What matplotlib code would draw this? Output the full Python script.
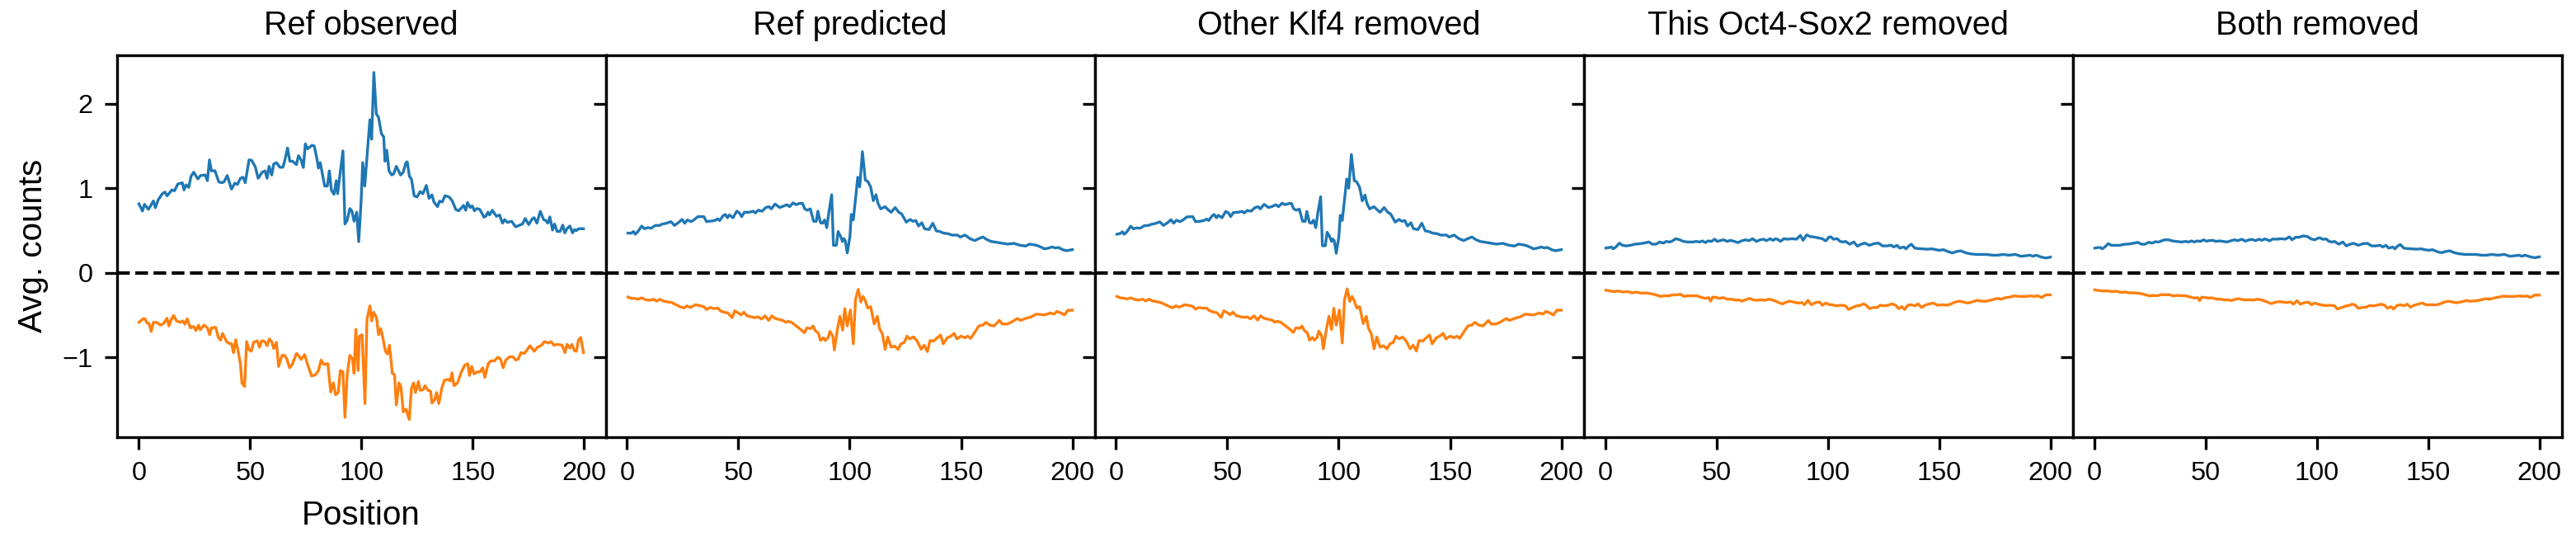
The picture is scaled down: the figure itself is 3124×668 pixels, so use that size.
import matplotlib
matplotlib.use("Agg")
import matplotlib.pyplot as plt

plt.rcParams['font.family'] = ['Liberation Sans', 'DejaVu Sans']

titles = ["Ref observed", "Ref predicted", "Other Klf4 removed",
          "This Oct4-Sox2 removed", "Both removed"]

# ---- Ref observed ----
obs_blue_pos = [0, 1.6, 2.5, 4.3, 6.5, 7.4, 8.6, 10.5, 11.7, 12.7, 14.8, 16, 17.5, 19.5, 20.3, 21.2, 22.4,
                23.4, 24.6, 26.5, 27.7, 29.8, 30.8, 31.7, 32.6, 34.2, 35.9, 37.2, 38.2, 39.7, 41.6, 43.1,
                44.3, 45.6, 46.8, 47.8, 49.5, 50.7, 52.3, 53.6, 55.4, 56.7, 57.6, 58.5, 59.7, 60.6, 61.8,
                63.4, 64.7, 65.5, 66.8, 67.8, 69, 70.8, 71.7, 72.9, 73.9, 74.8, 75.8, 77.8, 78.8, 80,
                80.7, 81.5, 82.8, 83.5, 84.7, 85.6, 86.5, 87.7, 88.7, 89.3, 90.5, 91.7, 92.6, 93.6, 94.8,
                95.7, 96.7, 97.9, 98.8, 99.8, 100.6, 101.5, 103.8, 104.6, 105.6, 106.7, 107.7, 109, 110,
                110.6, 111.4, 112.4, 113.6, 114.5, 115.7, 117.6, 118.8, 120, 120.6, 121.6, 122.5, 123.7,
                125, 126.4, 127.6, 129.2, 130.4, 131.7, 132.6, 134.2, 135.1, 136.3, 137.6, 139.5, 140.9,
                142.4, 143.7, 144.9, 145.9, 146.9, 147.7, 148.9, 149.8, 150.8, 151.8, 153.2, 155.1, 155.9,
                156.9, 157.6, 158.8, 160.7, 162.1, 163.4, 164.4, 165.6, 167.5, 169.3, 171.2, 172.4, 173.6,
                175.2, 176.7, 177.6, 178.9, 180.4, 181.9, 182.8, 183.8, 184.7, 185.9, 186.8, 188, 189.3,
                190.5, 191.4, 192.4, 193.7, 194.9, 195.8, 196.6, 197.6, 199.8]
obs_blue = [0.815, 0.73, 0.81, 0.75, 0.85, 0.77, 0.86, 0.935, 0.955, 0.91, 0.98, 0.97, 1.05, 1.065, 0.98,
            1.04, 1.01, 1.14, 1.19, 1.11, 1.15, 1.157, 1.09, 1.336, 1.206, 1.206, 1.075, 1.065, 1.075,
            1.15, 0.99, 1.06, 1.046, 1.118, 1.13, 1.065, 1.336, 1.33, 1.254, 1.118, 1.19, 1.206, 1.118,
            1.26, 1.157, 1.287, 1.303, 1.248, 1.248, 1.32, 1.476, 1.32, 1.32, 1.28, 1.385, 1.336, 1.245,
            1.525, 1.466, 1.509, 1.5, 1.35, 1.238, 1.303, 1.124, 1.026, 1.026, 1.206, 0.977, 0.929, 1.09,
            0.935, 1.19, 1.443, 0.577, 0.62, 0.76, 0.733, 0.61, 0.717, 0.368, 0.815, 1.303, 1.026, 1.81,
            1.58, 2.37, 1.88, 1.84, 1.645, 1.61, 1.32, 1.45, 1.206, 1.157, 1.17, 1.26, 1.157, 1.19, 1.303,
            1.313, 1.14, 1.108, 0.912, 0.896, 0.961, 0.935, 1.033, 0.88, 0.922, 0.837, 0.782, 0.847, 0.837,
            0.912, 0.896, 0.847, 0.75, 0.733, 0.766, 0.798, 0.74, 0.831, 0.772, 0.792, 0.733, 0.76, 0.75,
            0.658, 0.668, 0.717, 0.684, 0.74, 0.668, 0.684, 0.587, 0.629, 0.596, 0.61, 0.544, 0.564, 0.577,
            0.642, 0.57, 0.635, 0.652, 0.587, 0.727, 0.629, 0.62, 0.587, 0.661, 0.505, 0.577, 0.489, 0.489,
            0.564, 0.472, 0.521, 0.554, 0.472, 0.511, 0.498, 0.521, 0.521]

obs_orange_pos = [0, 1.9, 2.7, 3.7, 4.6, 5.5, 6.5, 8, 9.6, 11, 12.6, 13.5, 14.5, 15.6, 16.9, 18.5, 19.7,
                  20.7, 21.7, 23.1, 24.6, 25.6, 26.8, 27.5, 29.3, 30.8, 31.8, 32.6, 34.5, 35.7, 36.7, 37.6,
                  39.4, 40.6, 41.6, 42.5, 43.5, 44.6, 45.6, 46.3, 47.5, 48.4, 49.5, 50.5, 51.5, 53.2, 54.2,
                  55.2, 56.7, 57.6, 58.6, 59.7, 60.6, 61.8, 62.8, 64.3, 65.5, 66.5, 67.7, 68.9, 70.8, 72,
                  72.9, 74.5, 75.7, 77.6, 79.4, 80.7, 81.9, 83.1, 84.9, 86.2, 87.4, 88.4, 89.6, 90.5, 91.7,
                  92.6, 93.6, 94.8, 96, 96.7, 97.5, 98.5, 99.1, 100.3, 101.6, 102.5, 103.8, 104.6, 105.5,
                  106.8, 107.7, 108.7, 109.6, 110.8, 111.7, 112.6, 113.9, 114.9, 115.7, 116.9, 117.8, 118.8,
                  120, 121.5, 122.5, 123.5, 124.3, 125.6, 126.4, 127.7, 128.6, 129.9, 131.1, 131.7, 133,
                  133.8, 134.8, 136.1, 137.3, 139.1, 140, 140.7, 141.6, 143.2, 144.9, 146.5, 147.8, 148.6,
                  149.6, 150.6, 152.1, 153.3, 154.5, 155.5, 157, 158.2, 159.7, 161.3, 162.5, 163.7, 164.9,
                  166.6, 168.1, 169.3, 170.5, 171.7, 173.2, 174.5, 175.7, 177.7, 179.2, 181, 182.2, 184.1,
                  185.3, 186.5, 188, 190.2, 191.5, 192.4, 193.7, 194.6, 195.8, 196.6, 197.6, 198.6, 199.8]
obs_orange = [-0.587, -0.544, -0.544, -0.596, -0.603, -0.694, -0.587, -0.587, -0.619, -0.603, -0.538,
              -0.629, -0.554, -0.505, -0.57, -0.587, -0.57, -0.609, -0.544, -0.652, -0.635, -0.684, -0.619,
              -0.674, -0.619, -0.652, -0.733, -0.652, -0.645, -0.766, -0.798, -0.717, -0.815, -0.837,
              -0.837, -0.945, -0.792, -0.929, -1.075, -1.303, -1.346, -0.815, -0.912, -0.929, -0.824,
              -0.805, -0.88, -0.805, -0.815, -0.863, -0.782, -0.815, -0.896, -0.824, -1.108, -0.977,
              -0.977, -1.02, -1.124, -1.085, -0.955, -0.987, -1.026, -0.968, -1.075, -1.222, -1.206,
              -1.157, -1.033, -1.085, -1.075, -1.411, -1.303, -1.443, -1.417, -1.157, -1.173, -1.71,
              -1.206, -0.977, -1.02, -1.19, -0.668, -1.157, -0.75, -0.733, -1.548, -0.554, -0.391, -0.57,
              -0.466, -0.531, -0.733, -0.661, -0.766, -0.929, -0.961, -0.857, -1.19, -1.206, -1.564,
              -1.303, -1.352, -1.645, -1.613, -1.737, -1.368, -1.303, -1.417, -1.287, -1.391, -1.385,
              -1.336, -1.391, -1.401, -1.541, -1.499, -1.417, -1.548, -1.368, -1.271, -1.261, -1.281,
              -1.183, -1.336, -1.303, -1.173, -1.092, -1.075, -1.215, -1.108, -1.196, -1.173, -1.173,
              -1.124, -1.238, -1.075, -1.043, -1.043, -1.0, -1.02, -1.124, -1.033, -0.994, -0.994, -1.033,
              -1.02, -0.945, -0.955, -0.912, -0.863, -0.929, -0.88, -0.857, -0.815, -0.831, -0.815,
              -0.857, -0.847, -0.857, -0.945, -0.847, -0.89, -0.847, -0.922, -0.929, -0.792, -0.766, -0.945]

# ---- Ref predicted / Other Klf4 removed (same positions) ----
pred_blue_pos = [0.4, 2, 2.9, 3.7, 4.9, 6.6, 7.8, 9.4, 10.9, 12.7, 14.6, 15.8, 17.7, 19.7, 21.3, 23, 24.7,
                 25.9, 27.1, 28.7, 30, 31.8, 34.5, 35.7, 37.7, 39.4, 40.7, 41.6, 43.1, 44.1, 45.1, 45.9,
                 47.6, 49.3, 50.5, 51.5, 52.7, 54.9, 56.7, 57.6, 58.9, 60.7, 62.3, 63.8, 64.8, 66.5, 68.5,
                 70.2, 71.8, 73, 74.6, 75.9, 77.4, 78.8, 79.8, 81, 82.3, 83.8, 85, 85.7, 86.9, 87.8, 88.7,
                 89.7, 90.6, 91.9, 92.7, 94, 94.8, 95.8, 96.8, 97.3, 98, 98.9, 100.1, 100.7, 101.6, 102.6,
                 103.6, 104.5, 105.7, 107, 108.1, 109.4, 110.6, 111.8, 112.7, 113.9, 115.9, 117.1, 118.6,
                 120.4, 122, 123.3, 125.4, 127.1, 128.4, 129.7, 130.9, 132.4, 133.6, 135.6, 137.3, 138.9,
                 140.5, 142.2, 144.2, 145.9, 148.4, 149.6, 151.8, 154, 156.1, 158, 159.8, 161.7, 163.5,
                 166.6, 169.1, 170.9, 173.7, 176.4, 178.9, 180.8, 183.8, 185.7, 187.5, 189.4, 191, 192.3,
                 193.7, 195.5, 197.4, 200]
pred_blue = [0.469, 0.469, 0.488, 0.456, 0.488, 0.553, 0.521, 0.534, 0.527, 0.56, 0.56, 0.576, 0.586,
             0.605, 0.56, 0.592, 0.631, 0.586, 0.625, 0.605, 0.625, 0.664, 0.664, 0.605, 0.612, 0.618,
             0.638, 0.618, 0.674, 0.69, 0.651, 0.684, 0.651, 0.729, 0.707, 0.664, 0.716, 0.716, 0.729,
             0.707, 0.74, 0.729, 0.772, 0.782, 0.756, 0.814, 0.772, 0.788, 0.805, 0.782, 0.827, 0.805,
             0.821, 0.821, 0.756, 0.74, 0.756, 0.609, 0.609, 0.729, 0.592, 0.586, 0.625, 0.534, 0.707,
             0.924, 0.325, 0.325, 0.488, 0.436, 0.371, 0.404, 0.381, 0.234, 0.43, 0.69, 0.625, 0.87, 1.13,
             1.016, 1.433, 1.097, 1.081, 1.016, 0.853, 0.924, 0.821, 0.756, 0.782, 0.749, 0.716, 0.772,
             0.716, 0.697, 0.599, 0.631, 0.609, 0.618, 0.553, 0.592, 0.521, 0.511, 0.586, 0.495, 0.488,
             0.469, 0.462, 0.446, 0.446, 0.423, 0.446, 0.404, 0.381, 0.404, 0.423, 0.391, 0.371, 0.358,
             0.348, 0.339, 0.348, 0.326, 0.316, 0.339, 0.326, 0.306, 0.283, 0.293, 0.306, 0.293, 0.3,
             0.274, 0.261, 0.274]
klf4_blue = [0.456, 0.466, 0.485, 0.456, 0.485, 0.55, 0.521, 0.531, 0.527, 0.557, 0.56, 0.573, 0.583,
             0.602, 0.56, 0.589, 0.628, 0.586, 0.622, 0.605, 0.622, 0.661, 0.664, 0.605, 0.609, 0.618,
             0.635, 0.618, 0.671, 0.69, 0.651, 0.68, 0.651, 0.726, 0.707, 0.664, 0.713, 0.716, 0.726,
             0.707, 0.737, 0.729, 0.769, 0.782, 0.756, 0.81, 0.772, 0.785, 0.805, 0.782, 0.824, 0.805,
             0.818, 0.821, 0.756, 0.74, 0.753, 0.609, 0.609, 0.726, 0.592, 0.586, 0.622, 0.534, 0.704,
             0.9, 0.32, 0.32, 0.48, 0.436, 0.371, 0.4, 0.381, 0.23, 0.43, 0.68, 0.62, 0.86, 1.11,
             1.0, 1.40, 1.09, 1.075, 1.01, 0.85, 0.92, 0.82, 0.756, 0.782, 0.749, 0.716, 0.772,
             0.716, 0.697, 0.599, 0.631, 0.609, 0.618, 0.553, 0.592, 0.521, 0.511, 0.586, 0.495, 0.488,
             0.469, 0.462, 0.446, 0.446, 0.423, 0.446, 0.404, 0.381, 0.404, 0.423, 0.391, 0.371, 0.358,
             0.348, 0.339, 0.348, 0.326, 0.316, 0.339, 0.326, 0.306, 0.283, 0.293, 0.306, 0.293, 0.3,
             0.274, 0.261, 0.274]

pred_orange_pos = [0.4, 2, 3.5, 4.9, 6.6, 8.4, 10.3, 11.9, 13.3, 14.8, 16.4, 18.3, 20.1, 22, 23.8, 25.6,
                   26.9, 28.4, 30.8, 33, 34.5, 35.7, 37.3, 39.2, 40.7, 41.9, 43.5, 45.3, 47.2, 48.4, 50,
                   51.2, 52.5, 53.9, 55.8, 57.6, 58.9, 60.4, 62, 63.6, 65, 66.5, 68.5, 70, 71.4, 72.4, 73.9,
                   75.5, 77.1, 78.3, 79.6, 80.8, 82.5, 83.5, 84.5, 86, 86.9, 88.2, 89, 90.3, 91.1, 92.4, 93.1,
                   94.4, 95.6, 96.8, 97.8, 98.9, 100.3, 101.6, 102.6, 103.8, 105, 106, 106.9, 108.1, 109.4,
                   111, 112.4, 113.4, 114.7, 115.9, 117.1, 118.6, 120.1, 121.7, 123, 124.5, 125.7, 127,
                   128.7, 130.3, 132.1, 133.4, 134.9, 136.1, 137.7, 139.3, 140.8, 142, 143.8, 145.4, 146.9,
                   148.1, 150, 151.8, 153, 154.3, 155.8, 158, 159.8, 161.1, 162.9, 164.8, 167.2, 168.5,
                   170.9, 172.8, 175.3, 176.7, 178.9, 181.4, 183.8, 187.5, 190, 191.8, 193, 194.9, 196.4,
                   198, 200]
pred_orange = [-0.287, -0.303, -0.303, -0.313, -0.297, -0.319, -0.326, -0.313, -0.336, -0.313, -0.336,
               -0.345, -0.352, -0.378, -0.401, -0.417, -0.391, -0.411, -0.378, -0.391, -0.401, -0.434,
               -0.411, -0.424, -0.417, -0.45, -0.466, -0.476, -0.531, -0.45, -0.476, -0.499, -0.466,
               -0.509, -0.522, -0.531, -0.522, -0.548, -0.509, -0.564, -0.509, -0.541, -0.554, -0.564,
               -0.587, -0.574, -0.587, -0.619, -0.652, -0.678, -0.71, -0.652, -0.661, -0.629, -0.684,
               -0.717, -0.801, -0.769, -0.801, -0.769, -0.694, -0.75, -0.913, -0.684, -0.515, -0.678,
               -0.424, -0.629, -0.44, -0.841, -0.319, -0.196, -0.345, -0.28, -0.326, -0.417, -0.401,
               -0.606, -0.515, -0.661, -0.727, -0.906, -0.759, -0.88, -0.867, -0.906, -0.841, -0.824,
               -0.75, -0.782, -0.759, -0.808, -0.906, -0.857, -0.932, -0.801, -0.808, -0.769, -0.737,
               -0.841, -0.769, -0.75, -0.717, -0.782, -0.75, -0.769, -0.75, -0.776, -0.717, -0.629,
               -0.619, -0.587, -0.619, -0.629, -0.564, -0.606, -0.606, -0.58, -0.541, -0.564, -0.541,
               -0.522, -0.489, -0.499, -0.476, -0.489, -0.457, -0.476, -0.499, -0.443, -0.443]
klf4_orange = [-0.28, -0.297, -0.3, -0.31, -0.297, -0.316, -0.323, -0.313, -0.333, -0.313, -0.333,
               -0.342, -0.352, -0.375, -0.398, -0.414, -0.391, -0.408, -0.378, -0.388, -0.398, -0.43,
               -0.411, -0.42, -0.417, -0.447, -0.463, -0.473, -0.528, -0.45, -0.473, -0.496, -0.466,
               -0.506, -0.52, -0.528, -0.522, -0.545, -0.509, -0.56, -0.509, -0.538, -0.551, -0.56,
               -0.584, -0.574, -0.584, -0.616, -0.648, -0.674, -0.706, -0.652, -0.658, -0.629, -0.68,
               -0.714, -0.797, -0.766, -0.797, -0.766, -0.69, -0.75, -0.9, -0.68, -0.515, -0.67,
               -0.42, -0.62, -0.44, -0.83, -0.32, -0.19, -0.34, -0.28, -0.326, -0.417, -0.401,
               -0.6, -0.515, -0.658, -0.727, -0.9, -0.759, -0.88, -0.864, -0.9, -0.841, -0.824,
               -0.75, -0.782, -0.759, -0.808, -0.9, -0.857, -0.925, -0.801, -0.808, -0.769, -0.737,
               -0.841, -0.769, -0.75, -0.717, -0.782, -0.75, -0.769, -0.75, -0.776, -0.717, -0.629,
               -0.619, -0.587, -0.619, -0.629, -0.564, -0.606, -0.606, -0.58, -0.541, -0.564, -0.541,
               -0.522, -0.489, -0.499, -0.476, -0.489, -0.457, -0.476, -0.499, -0.443, -0.443]

# ---- This Oct4-Sox2 removed / Both removed (same positions) ----
os_blue_pos = [0.2, 1.8, 2.7, 3.5, 4.7, 6.3, 7.6, 9.4, 11.3, 13.1, 15.6, 17.8, 19.5, 21.1, 22.7, 24.4, 26,
               27.3, 28.9, 30.1, 31.6, 33.4, 35, 37.1, 39.2, 40.8, 42.4, 43.6, 44.9, 46.1, 47.6, 49.1,
               50.3, 51.5, 53.1, 54.7, 56.2, 58, 59.6, 61.1, 62.9, 64.6, 66.1, 67.9, 69.5, 71, 72.4, 74,
               75.3, 76.5, 77.8, 78.6, 80.2, 81.8, 83.9, 85.8, 87.6, 88.8, 90.4, 91.9, 93.8, 95.6, 97.4,
               99, 100.5, 101.4, 102.4, 104.2, 105.4, 106.7, 107.9, 109.8, 111.6, 113.2, 114.9, 116.5,
               118.6, 120.6, 122.7, 124.5, 126.4, 128.5, 129.5, 131, 132.2, 134.1, 135, 136.2, 137.4, 139,
               140.5, 142.7, 144.5, 146.7, 148.5, 150.1, 151.9, 154, 155.9, 157.5, 159.6, 161.5, 163.3,
               166.4, 168.9, 171.3, 173.8, 176.2, 178.7, 181.2, 184.2, 186.7, 188.6, 190.8, 192, 193.5,
               195.9, 197.8, 199.9]
os_blue = [0.292, 0.299, 0.305, 0.283, 0.305, 0.351, 0.325, 0.318, 0.325, 0.338, 0.344, 0.354, 0.364,
           0.338, 0.338, 0.364, 0.351, 0.371, 0.364, 0.377, 0.403, 0.39, 0.371, 0.364, 0.364, 0.371,
           0.364, 0.377, 0.357, 0.377, 0.371, 0.397, 0.371, 0.38, 0.39, 0.371, 0.384, 0.371, 0.357,
           0.377, 0.39, 0.38, 0.403, 0.371, 0.39, 0.397, 0.38, 0.403, 0.384, 0.403, 0.39, 0.371, 0.403,
           0.397, 0.403, 0.397, 0.442, 0.384, 0.449, 0.429, 0.423, 0.413, 0.403, 0.377, 0.423, 0.423,
           0.397, 0.403, 0.371, 0.364, 0.371, 0.338, 0.364, 0.315, 0.338, 0.351, 0.325, 0.344, 0.351,
           0.318, 0.318, 0.325, 0.305, 0.325, 0.292, 0.305, 0.283, 0.315, 0.338, 0.292, 0.286, 0.283,
           0.279, 0.283, 0.273, 0.266, 0.273, 0.25, 0.234, 0.25, 0.26, 0.24, 0.227, 0.217, 0.217,
           0.217, 0.208, 0.208, 0.217, 0.208, 0.217, 0.195, 0.201, 0.208, 0.195, 0.208, 0.185, 0.175,
           0.185]
both_blue = [0.292, 0.299, 0.299, 0.283, 0.305, 0.345, 0.325, 0.325, 0.325, 0.335, 0.341, 0.351, 0.36,
             0.338, 0.338, 0.361, 0.351, 0.367, 0.364, 0.377, 0.39, 0.39, 0.377, 0.37, 0.364, 0.371,
             0.364, 0.377, 0.364, 0.377, 0.371, 0.39, 0.374, 0.38, 0.384, 0.371, 0.377, 0.371, 0.364,
             0.377, 0.39, 0.38, 0.397, 0.374, 0.39, 0.394, 0.38, 0.397, 0.384, 0.4, 0.39, 0.377, 0.4,
             0.397, 0.403, 0.397, 0.425, 0.39, 0.42, 0.42, 0.436, 0.43, 0.4, 0.39, 0.41, 0.413,
             0.397, 0.4, 0.371, 0.364, 0.371, 0.338, 0.364, 0.318, 0.338, 0.348, 0.325, 0.344, 0.348,
             0.318, 0.318, 0.325, 0.305, 0.325, 0.292, 0.305, 0.283, 0.315, 0.335, 0.292, 0.286, 0.283,
             0.279, 0.283, 0.273, 0.266, 0.273, 0.25, 0.237, 0.25, 0.26, 0.24, 0.227, 0.217, 0.217,
             0.217, 0.208, 0.208, 0.217, 0.208, 0.217, 0.195, 0.201, 0.208, 0.195, 0.208, 0.188, 0.178,
             0.188]

os_orange_pos = [0.2, 2, 3.9, 5.7, 7.9, 10, 11.9, 13.7, 16.2, 18, 20.5, 22.7, 24.8, 26.7, 28.5, 30.1,
                 32.2, 33.8, 35.3, 37.1, 39, 40.8, 42.6, 45.1, 46.4, 47.3, 48.2, 49.8, 51.3, 52.8, 54.7,
                 56.8, 58.7, 59.9, 61.4, 63, 64.8, 66.3, 67.9, 69.8, 71.6, 73.2, 74.7, 76.5, 78.4, 79.6,
                 80.8, 82.7, 84.5, 86.4, 88.2, 89.4, 91, 92.5, 94.4, 96.2, 97.5, 99, 100.8, 101.8, 103.6,
                 106.1, 107.9, 109.2, 111, 112.9, 114.7, 115.9, 117.2, 118.6, 120.2, 122.1, 123.5, 125.2,
                 127, 128.8, 130.4, 131.7, 133.2, 134.4, 135.9, 137.5, 139, 140.5, 142, 143.6, 145.5,
                 147.3, 149.2, 151.4, 153.5, 155.3, 157.2, 159, 160.8, 162.7, 164.6, 167, 168.9, 171.3,
                 173.8, 176, 177.5, 180, 181.8, 183.7, 186.2, 188.6, 191.1, 192.9, 194.1, 196, 197.8, 199.9]
os_orange = [-0.206, -0.216, -0.222, -0.216, -0.228, -0.222, -0.238, -0.228, -0.241, -0.238, -0.248,
             -0.261, -0.28, -0.271, -0.274, -0.261, -0.261, -0.254, -0.28, -0.271, -0.274, -0.271,
             -0.287, -0.303, -0.293, -0.336, -0.287, -0.293, -0.303, -0.293, -0.313, -0.313, -0.326,
             -0.319, -0.336, -0.319, -0.303, -0.319, -0.326, -0.319, -0.326, -0.313, -0.319, -0.336,
             -0.358, -0.368, -0.352, -0.336, -0.346, -0.358, -0.352, -0.378, -0.326, -0.378, -0.352,
             -0.346, -0.384, -0.358, -0.378, -0.378, -0.391, -0.384, -0.391, -0.434, -0.411, -0.391,
             -0.384, -0.368, -0.384, -0.424, -0.411, -0.411, -0.384, -0.391, -0.384, -0.368, -0.384,
             -0.424, -0.401, -0.434, -0.384, -0.378, -0.391, -0.368, -0.411, -0.384, -0.368, -0.358,
             -0.384, -0.378, -0.384, -0.368, -0.346, -0.336, -0.346, -0.358, -0.346, -0.326, -0.336,
             -0.336, -0.319, -0.303, -0.313, -0.293, -0.287, -0.274, -0.28, -0.28, -0.274, -0.28,
             -0.271, -0.293, -0.261, -0.261]
both_orange = [-0.203, -0.21, -0.216, -0.213, -0.222, -0.219, -0.232, -0.228, -0.238, -0.238, -0.245,
               -0.258, -0.274, -0.268, -0.271, -0.258, -0.261, -0.258, -0.274, -0.268, -0.271, -0.271,
               -0.284, -0.3, -0.293, -0.33, -0.29, -0.293, -0.3, -0.296, -0.31, -0.313, -0.323,
               -0.319, -0.33, -0.316, -0.306, -0.316, -0.323, -0.319, -0.323, -0.313, -0.319, -0.333,
               -0.355, -0.365, -0.352, -0.342, -0.346, -0.352, -0.346, -0.372, -0.33, -0.372, -0.352,
               -0.348, -0.378, -0.358, -0.375, -0.378, -0.388, -0.384, -0.391, -0.43, -0.411, -0.394,
               -0.384, -0.371, -0.384, -0.42, -0.411, -0.407, -0.388, -0.391, -0.384, -0.371, -0.384,
               -0.42, -0.401, -0.43, -0.388, -0.378, -0.391, -0.371, -0.407, -0.384, -0.371, -0.358,
               -0.38, -0.378, -0.38, -0.368, -0.348, -0.336, -0.346, -0.355, -0.346, -0.329, -0.336,
               -0.333, -0.319, -0.306, -0.313, -0.296, -0.287, -0.277, -0.28, -0.28, -0.274, -0.28,
               -0.274, -0.29, -0.264, -0.264]

panels = [
    (obs_blue_pos, obs_blue, obs_orange_pos, obs_orange),
    (pred_blue_pos, pred_blue, pred_orange_pos, pred_orange),
    (pred_blue_pos, klf4_blue, pred_orange_pos, klf4_orange),
    (os_blue_pos, os_blue, os_orange_pos, os_orange),
    (os_blue_pos, both_blue, os_orange_pos, both_orange),
]

fig, axes = plt.subplots(1, 5, sharey=True, figsize=(3124 / 300, 668 / 300), dpi=300)
fig.subplots_adjust(left=0.0453, right=0.9944, top=0.90, bottom=0.207, wspace=0)

for ax, title, (bp, bv, op, ov) in zip(axes, titles, panels):
    ax.plot(bp, bv, color='#1f77b4', lw=0.8)
    ax.plot(op, ov, color='#ff7f0e', lw=0.8)
    ax.axhline(0, color='black', ls='--', lw=1.0)
    ax.set_title(title, fontsize=9.5)
    ax.tick_params(labelsize=7.8)
    ax.set_xticks([0, 50, 100, 150, 200])

axes[0].set_ylabel('Avg. counts', fontsize=9.7)
axes[0].set_xlabel('Position', fontsize=9.7)

fig.savefig('out.png', dpi=300)
